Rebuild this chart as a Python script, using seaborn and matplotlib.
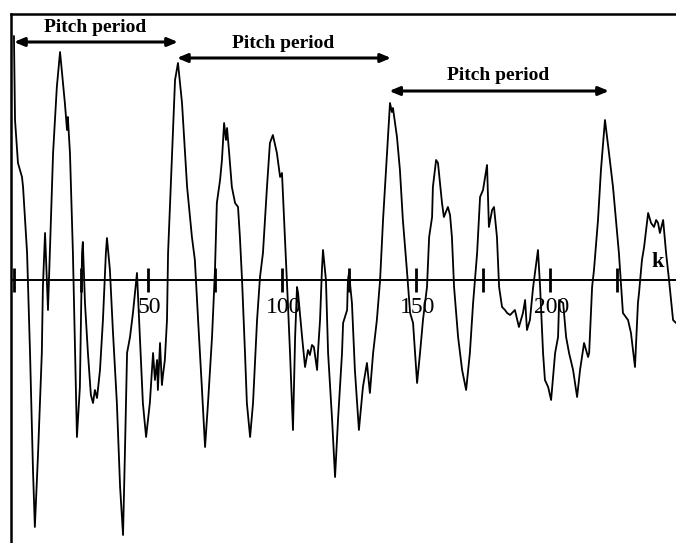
import matplotlib
matplotlib.use("Agg")
import matplotlib.pyplot as plt
import numpy as np
import pandas as pd
import seaborn as sns

# sample index k and signal amplitude (arbitrary units)
k = [0.0, 0.4, 1.5, 3.0, 3.4, 4.9, 6.0, 7.1, 7.8, 9.0,
     10.4, 10.8, 11.6, 12.7, 13.4, 14.6, 16.0, 17.2, 19.0, 19.8,
     20.1, 20.9, 22.0, 22.8, 23.5, 24.6, 25.4, 25.7, 26.5, 27.6,
     28.7, 29.5, 30.2, 31.0, 32.1, 33.2, 34.3, 34.7, 35.8, 36.9,
     38.4, 39.6, 40.7, 41.4, 42.2, 43.3, 44.4, 45.9, 47.0, 48.1,
     49.3, 50.7, 51.9, 52.6, 53.4, 53.7, 54.5, 55.2, 55.6, 56.3,
     57.1, 57.5, 59.0, 60.1, 61.2, 62.7, 64.6, 66.4, 67.5, 68.7,
     70.1, 71.3, 72.4, 73.9, 75.0, 75.7, 76.9, 77.6, 78.4, 79.1,
     79.5, 80.2, 81.3, 82.5, 83.6, 84.3, 85.1, 86.2, 86.9, 88.1,
     89.2, 90.7, 91.8, 92.9, 94.4, 95.5, 96.6, 98.1, 99.3, 100.0,
     101.1, 102.2, 103.0, 103.7, 104.1, 104.9, 105.6, 106.0, 107.5, 108.6,
     109.7, 110.4, 111.2, 111.9, 113.1, 113.4, 114.2, 114.9, 115.3, 116.4,
     117.2, 118.7, 119.8, 120.9, 122.4, 122.8, 124.3, 124.6, 125.0, 126.1,
     127.2, 128.7, 130.2, 131.7, 132.8, 134.0, 135.4, 136.6, 137.7, 139.2,
     140.3, 141.0, 141.4, 142.9, 144.0, 145.1, 146.6, 147.8, 148.9, 150.4,
     151.5, 152.6, 154.1, 154.9, 156.0, 156.3, 157.5, 158.2, 159.7, 160.4,
     161.9, 162.7, 163.4, 164.2, 165.7, 167.2, 168.7, 170.1, 171.3, 172.8,
     173.9, 175.0, 176.5, 177.2, 178.4, 179.1, 180.2, 181.0, 182.1, 183.2,
     184.0, 185.1, 185.8, 186.9, 188.4, 189.9, 190.7, 191.4, 192.5, 193.7,
     195.5, 196.3, 197.4, 198.1, 199.3, 200.4, 201.9, 203.0, 203.4, 204.9,
     206.0, 207.1, 208.6, 210.1, 211.2, 212.7, 214.2, 214.6, 215.7, 216.4,
     217.9, 219.0, 220.5, 222.0, 223.5, 224.6, 225.7, 227.2, 229.1, 230.2,
     231.7, 232.8, 233.2, 234.3, 235.1, 236.6, 237.7, 238.8, 239.6, 240.3,
     241.0, 242.2, 243.3, 244.4, 245.9, 247.0]
amp = [244, 160, 117, 103, 93, 27, -73, -190, -247, -173,
       -73, -7, 47, -30, 27, 127, 193, 228, 177, 150,
       163, 127, 27, -73, -157, -107, 27, 38, -23, -73,
       -115, -123, -110, -118, -90, -40, 27, 42, 10, -50,
       -123, -207, -255, -173, -73, -57, -33, 7, -57, -123,
       -157, -123, -73, -100, -80, -110, -63, -105, -95, -80,
       -40, 27, 127, 200, 217, 177, 93, 43, 20, -40,
       -107, -167, -123, -57, 10, 77, 100, 120, 157, 140,
       152, 130, 93, 77, 73, 43, 0, -73, -123, -157,
       -123, -40, 3, 27, 93, 137, 145, 127, 103, 107,
       43, -23, -73, -123, -150, -57, -7, -13, -57, -87,
       -70, -75, -65, -67, -90, -73, -40, 10, 30, 0,
       -73, -140, -197, -140, -73, -43, -30, 0, 7, -23,
       -90, -150, -107, -83, -113, -73, -40, 0, 60, 127,
       177, 168, 172, 143, 110, 60, 10, -33, -43, -103,
       -73, -40, -7, 43, 63, 93, 120, 117, 77, 63,
       73, 65, 43, -7, -57, -90, -110, -73, -23, 27,
       83, 90, 115, 53, 70, 73, 43, -7, -27, -30,
       -33, -35, -33, -30, -47, -33, -20, -50, -40, -7,
       30, -7, -73, -100, -107, -120, -73, -57, -20, -23,
       -57, -73, -90, -117, -90, -63, -77, -73, -7, 10,
       60, 110, 160, 127, 93, 60, 27, -33, -40, -53,
       -87, -23, -13, 20, 33, 67, 57, 53, 60, 57,
       47, 60, 27, 0, -40, -43]

tick_k = [0, 25, 50, 75, 100, 125, 150, 175, 200, 225]
label_k = [50, 100, 150, 200]

# pitch period markers: start, end, height of the arrow, height of the text
period_start = [0.0, 60.8, 140.0]
period_end = [61.2, 140.7, 222.0]
arrow_level = [238, 222, 189]
text_level = [252, 236, 205]

df = pd.DataFrame({"k": k, "amp": amp})

sns.set_style("white")
plt.rcParams["font.family"] = ["Liberation Serif", "DejaVu Serif"]
plt.rcParams["text.color"] = "black"

fig = plt.figure(figsize=(6.76, 5.43), dpi=100)
ax = fig.add_axes([11 / 676, 0.0, 665 / 676, 529 / 543])

sns.lineplot(data=df, x="k", y="amp", ax=ax, color="black", lw=1.3,
             estimator=None, sort=False)

ax.axhline(0, color="black", lw=1.4)
ax.vlines(tick_k, -12, 12, color="black", lw=2)
for t in label_k:
    ax.text(t + 0.5, -17, str(t), ha="center", va="top", fontsize=17,
            color="black")
ax.text(240, 8, "k", ha="center", va="bottom", fontsize=16,
        fontweight="bold", color="black")

for s, e, ya, yt in zip(period_start, period_end, arrow_level, text_level):
    ax.annotate("", xy=(e, ya), xytext=(s, ya),
                arrowprops=dict(arrowstyle="<|-|>,head_length=0.6,head_width=0.25",
                                color="black", lw=2.2, shrinkA=0, shrinkB=0))
    ax.text((s + e) / 2 - 0.5, yt, "Pitch period", ha="center", va="center",
            fontsize=14, fontweight="bold", color="black")

ax.set_xlim(-1.1, 247.0)
ax.set_ylim(-263, 266)
ax.set_xticks([])
ax.set_yticks([])
ax.set_xlabel("")
ax.set_ylabel("")
for side in ["right", "bottom"]:
    ax.spines[side].set_visible(False)
for side in ["top", "left"]:
    ax.spines[side].set_color("black")
    ax.spines[side].set_linewidth(1.8)

fig.savefig("out.png", dpi=100)
